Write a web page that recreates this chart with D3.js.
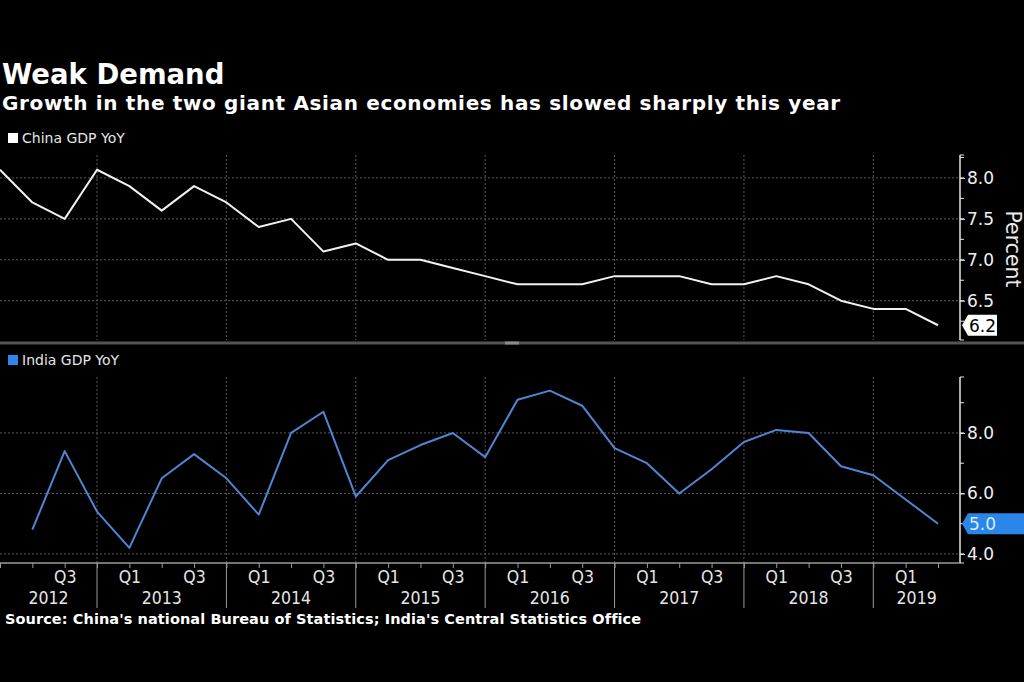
<!DOCTYPE html>
<html><head><meta charset="utf-8">
<script src="https://cdn.jsdelivr.net/npm/d3@7"></script>
<style>
html,body{margin:0;padding:0;background:#000;}
svg{display:block;}
</style></head>
<body>
<svg id="c" width="1024" height="682"></svg>
<script>
const quarters = ["2012Q1","2012Q2","2012Q3","2012Q4","2013Q1","2013Q2","2013Q3","2013Q4",
  "2014Q1","2014Q2","2014Q3","2014Q4","2015Q1","2015Q2","2015Q3","2015Q4",
  "2016Q1","2016Q2","2016Q3","2016Q4","2017Q1","2017Q2","2017Q3","2017Q4",
  "2018Q1","2018Q2","2018Q3","2018Q4","2019Q1","2019Q2"];
const chinaGDP = [8.1,7.7,7.5,8.1, 7.9,7.6,7.9,7.7, 7.4,7.5,7.1,7.2, 7.0,7.0,6.9,6.8,
  6.7,6.7,6.7,6.8, 6.8,6.8,6.7,6.7, 6.8,6.7,6.5,6.4, 6.4,6.2];
const indiaQuarters = quarters.slice(1);
const indiaGDP = [4.8,7.4,5.4, 4.2,6.5,7.3,6.5, 5.3,8.0,8.7,5.9, 7.1,7.6,8.0,7.2,
  9.1,9.4,8.9,7.5, 7.0,6.0,6.8,7.7, 8.1,8.0,6.9,6.6, 5.8,5.0];
const years = [2012,2013,2014,2015,2016,2017,2018,2019];
const chinaTicks = [6.5,7.0,7.5,8.0];
const chinaMinor = [6.25,6.5,6.75,7.0,7.25,7.5,7.75,8.0,8.25];
const indiaTicks = [4,6,8];
const indiaMinor = [4,5,6,7,8,9];

(function(){
const svg = d3.select("#c");
const W = 1024;
const axisX = 960;
const cond = "'DejaVu Sans Condensed','Liberation Sans Narrow','DejaVu Sans',sans-serif";
const sans = "'DejaVu Sans',sans-serif";

const x = d3.scalePoint().domain(quarters).range([0, 938]);
const pTop = {y0:155, y1:340};
const pBot = {y0:377, y1:563};
const yTop = d3.scaleLinear().domain([6.02, 8.28]).range([pTop.y1, pTop.y0]);
const yBot = d3.scaleLinear().domain([3.7, 9.85]).range([pBot.y1, pBot.y0]);

svg.append("text").attr("x",2).attr("y",84).attr("fill","#fff")
  .attr("font-family",sans).attr("font-weight","bold").attr("font-size",27.5)
  .text("Weak Demand");
svg.append("text").attr("x",2).attr("y",110).attr("fill","#fff")
  .attr("font-family",sans).attr("font-weight","bold").attr("font-size",20)
  .attr("letter-spacing",0.65)
  .text("Growth in the two giant Asian economies has slowed sharply this year");

const boundaries = years.slice(0,-1).map(y => x(y+"Q4"));

function grid(yScale, ticks, p){
  const g = svg.append("g");
  g.selectAll("line.h").data(ticks).join("line")
    .attr("x1",0).attr("x2",axisX).attr("y1",d=>yScale(d)).attr("y2",d=>yScale(d))
    .attr("stroke","#5a5a5a").attr("stroke-width",1).attr("stroke-dasharray","2,2");
  g.selectAll("line.v").data(boundaries).join("line")
    .attr("x1",d=>d).attr("x2",d=>d).attr("y1",p.y0).attr("y2",p.y1)
    .attr("stroke","#5a5a5a").attr("stroke-width",1).attr("stroke-dasharray","2,2");
}
grid(yTop, chinaTicks, pTop);
grid(yBot, indiaTicks, pBot);

svg.append("rect").attr("x",8).attr("y",133).attr("width",10).attr("height",10).attr("fill","#fff");
svg.append("text").attr("x",22).attr("y",143).attr("fill","#e6e6e6")
  .attr("font-family",sans).attr("font-size",14).text("China GDP YoY");
svg.append("rect").attr("x",8).attr("y",355).attr("width",10).attr("height",10).attr("fill","#2d86e8");
svg.append("text").attr("x",22).attr("y",365).attr("fill","#e6e6e6")
  .attr("font-family",sans).attr("font-size",14).text("India GDP YoY");

const lineTop = d3.line().x((d,i)=>x(quarters[i])).y(d=>yTop(d));
svg.append("path").datum(chinaGDP).attr("d",lineTop).attr("fill","none")
  .attr("stroke","#f2f2f2").attr("stroke-width",2).attr("stroke-linejoin","round");
const lineBot = d3.line().x((d,i)=>x(indiaQuarters[i])).y(d=>yBot(d));
svg.append("path").datum(indiaGDP).attr("d",lineBot).attr("fill","none")
  .attr("stroke","#4f86d2").attr("stroke-width",2).attr("stroke-linejoin","round");

function rightAxis(yScale, majors, minors, p, fmt){
  const g = svg.append("g").attr("transform",`translate(${axisX},0)`);
  g.append("line").attr("x1",0).attr("x2",0).attr("y1",p.y0).attr("y2",p.y1)
    .attr("stroke","#e6e6e6").attr("stroke-width",1.5);
  g.selectAll("line.m").data(minors).join("line")
    .attr("x1",0).attr("x2",4).attr("y1",d=>yScale(d)).attr("y2",d=>yScale(d))
    .attr("stroke","#e6e6e6").attr("stroke-width",1);
  [p.y0,p.y1].forEach(yy=>g.append("line").attr("x1",0).attr("x2",4).attr("y1",yy).attr("y2",yy)
    .attr("stroke","#e6e6e6").attr("stroke-width",1));
  const ax = d3.axisRight(yScale).tickValues(majors).tickSize(5).tickPadding(2).tickFormat(fmt);
  const a = svg.append("g").attr("transform",`translate(${axisX},0)`).call(ax);
  a.select(".domain").remove();
  a.selectAll(".tick line").attr("stroke","#e6e6e6");
  a.selectAll(".tick text").attr("fill","#f0f0f0").attr("font-family",sans).attr("font-size",17);
}
rightAxis(yTop, chinaTicks, chinaMinor, pTop, d3.format(".1f"));
rightAxis(yBot, indiaTicks, indiaMinor, pBot, d3.format(".1f"));

svg.append("text").attr("transform","translate(1006,249) rotate(90)")
  .attr("text-anchor","middle").attr("fill","#eaeaea").attr("font-family",sans)
  .attr("font-size",20.5).text("Percent");

function tag(yv, label, fill, textFill, xEnd){
  const h = 21, x0 = 962;
  const g = svg.append("g").attr("transform",`translate(0,${yv})`);
  g.append("path").attr("d",`M${x0},0 L${x0+6},${-h/2} L${xEnd},${-h/2} L${xEnd},${h/2} L${x0+6},${h/2} Z`)
    .attr("fill",fill);
  g.append("text").attr("x",x0+7).attr("y",6.5).attr("fill",textFill)
    .attr("font-family",sans).attr("font-size",17).text(label);
}
tag(yTop(chinaGDP[chinaGDP.length-1]), d3.format(".1f")(chinaGDP[chinaGDP.length-1]), "#fff", "#000", 997);
tag(yBot(indiaGDP[indiaGDP.length-1]), d3.format(".1f")(indiaGDP[indiaGDP.length-1]), "#2a86e8", "#d8ecff", 1024);

svg.append("rect").attr("x",0).attr("y",341.5).attr("width",W).attr("height",3).attr("fill","#555");
svg.append("rect").attr("x",505).attr("y",341.5).attr("width",14).attr("height",3).attr("fill","#8a8a8a");

const xg = svg.append("g").attr("transform",`translate(0,${pBot.y1})`);
xg.append("line").attr("x1",0).attr("x2",axisX).attr("y1",0).attr("y2",0)
  .attr("stroke","#9a9a9a").attr("stroke-width",1.5);
const xa = d3.axisBottom(x).tickSize(5).tickPadding(3)
  .tickFormat(q => (q==="2012Q1") ? "" : (q.endsWith("Q1")||q.endsWith("Q3")) ? q.slice(4) : "");
const xa2 = svg.append("g").attr("transform",`translate(0,${pBot.y1})`).call(xa);
xa2.select(".domain").remove();
xa2.selectAll(".tick line").attr("stroke","#9a9a9a");
xa2.selectAll(".tick text").attr("fill","#e6e6e6").attr("font-family",cond).attr("font-size",17.5);
svg.append("g").selectAll("line").data(boundaries).join("line")
  .attr("x1",d=>d).attr("x2",d=>d).attr("y1",pBot.y1).attr("y2",608)
  .attr("stroke","#9a9a9a").attr("stroke-width",1);
const edges = [0, ...boundaries, axisX];
svg.append("g").selectAll("text").data(years).join("text")
  .attr("x",(d,i)=>(edges[i]+edges[i+1])/2).attr("y",604)
  .attr("text-anchor","middle").attr("fill","#e6e6e6").attr("font-family",cond)
  .attr("font-size",17.5).text(d=>d);

svg.append("text").attr("x",5).attr("y",624).attr("fill","#fff")
  .attr("font-family",sans).attr("font-weight","bold").attr("font-size",14.5)
  .attr("letter-spacing",0.08)
  .text("Source: China's national Bureau of Statistics; India's Central Statistics Office");
})();
</script>
</body></html>
